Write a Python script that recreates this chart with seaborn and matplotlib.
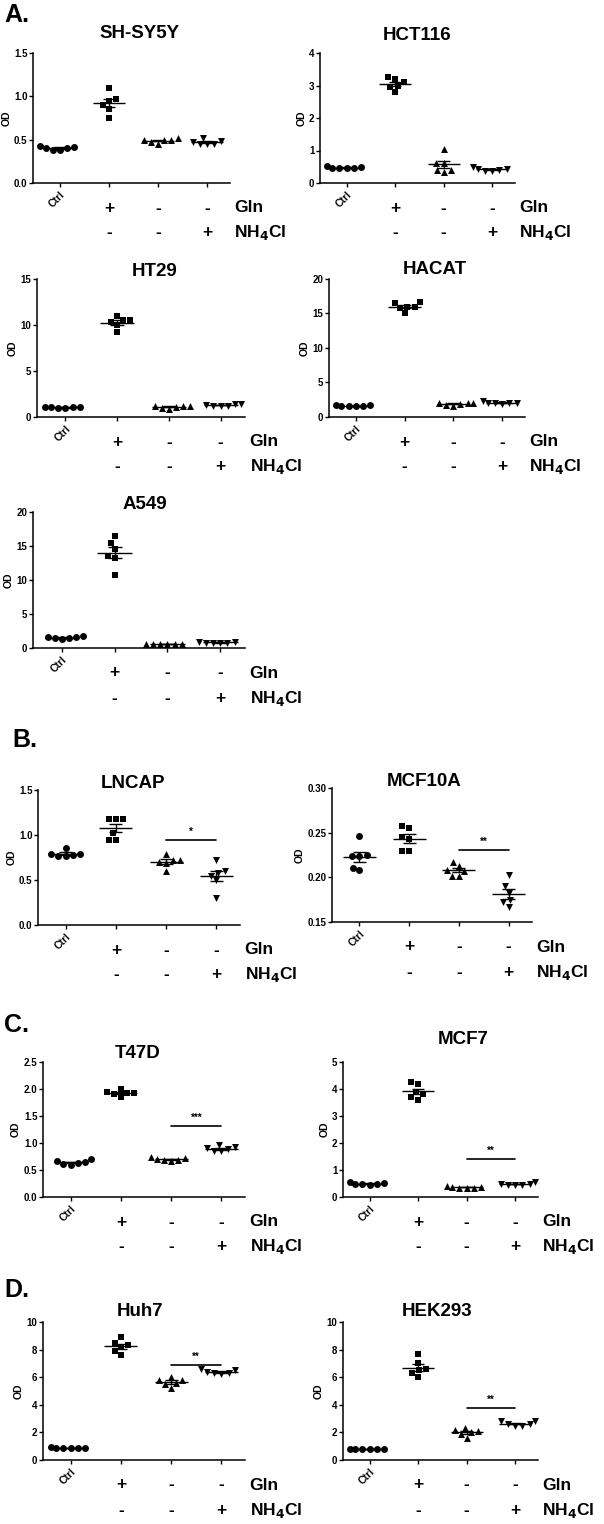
import numpy as np
import pandas as pd
import matplotlib
matplotlib.use("Agg")
import matplotlib.pyplot as plt
import seaborn as sns

# groups in order: Ctrl, Gln+, Gln-/NH4Cl-, NH4Cl+
groups = ["Ctrl", "Gln", "None", "NH4Cl"]
markers = ["o", "s", "^", "v"]
gln_signs = ["+", "-", "-"]
nh4cl_signs = ["-", "-", "+"]

# OD values (6 replicates per group)
sh_sy5y = [[0.42, 0.40, 0.38, 0.38, 0.40, 0.43],
           [1.10, 0.95, 0.97, 0.90, 0.85, 0.75],
           [0.50, 0.50, 0.47, 0.45, 0.50, 0.52],
           [0.52, 0.47, 0.45, 0.45, 0.45, 0.48]]
hct116 = [[0.48, 0.46, 0.45, 0.45, 0.47, 0.52],
          [3.20, 3.00, 3.10, 2.95, 2.80, 3.25],
          [1.05, 0.62, 0.62, 0.40, 0.35, 0.40],
          [0.42, 0.40, 0.38, 0.38, 0.42, 0.50]]
ht29 = [[1.10, 1.05, 1.00, 1.00, 1.05, 1.10],
        [11.0, 10.5, 10.0, 9.2, 10.3, 10.5],
        [1.20, 1.10, 0.90, 1.00, 1.20, 1.25],
        [1.40, 1.20, 1.20, 1.25, 1.30, 1.40]]
hacat = [[1.7, 1.6, 1.6, 1.6, 1.6, 1.7],
         [16.6, 16.0, 15.8, 16.5, 15.0, 16.0],
         [2.0, 1.8, 1.6, 1.9, 2.1, 2.0],
         [2.1, 2.0, 1.9, 2.0, 2.1, 2.3]]
a549 = [[1.6, 1.5, 1.3, 1.5, 1.6, 1.7],
        [16.4, 15.5, 14.6, 13.6, 13.2, 10.7],
        [0.60, 0.60, 0.55, 0.60, 0.60, 0.60],
        [0.80, 0.80, 0.75, 0.80, 0.85, 0.90]]
lncap = [[0.79, 0.86, 0.78, 0.77, 0.77, 0.79],
         [1.18, 1.18, 1.18, 1.02, 0.95, 0.95],
         [0.79, 0.72, 0.70, 0.69, 0.60, 0.72],
         [0.72, 0.60, 0.58, 0.55, 0.50, 0.30]]
mcf10a = [[0.246, 0.224, 0.224, 0.225, 0.211, 0.208],
          [0.255, 0.257, 0.245, 0.243, 0.229, 0.230],
          [0.217, 0.213, 0.207, 0.208, 0.202, 0.202],
          [0.203, 0.190, 0.183, 0.175, 0.172, 0.167]]
t47d = [[0.66, 0.63, 0.60, 0.61, 0.64, 0.70],
        [1.95, 1.92, 2.00, 1.90, 1.85, 1.93],
        [0.72, 0.69, 0.67, 0.68, 0.70, 0.74],
        [0.92, 0.88, 0.85, 0.86, 0.90, 0.97]]
mcf7 = [[0.52, 0.48, 0.45, 0.47, 0.50, 0.55],
        [4.20, 4.25, 3.90, 3.80, 3.60, 3.70],
        [0.38, 0.35, 0.32, 0.35, 0.38, 0.42],
        [0.50, 0.45, 0.45, 0.45, 0.50, 0.55]]
huh7 = [[0.9, 0.9, 0.88, 0.88, 0.9, 0.92],
        [8.9, 8.5, 8.2, 7.9, 7.6, 8.3],
        [6.0, 5.8, 5.6, 5.2, 5.5, 5.8],
        [6.5, 6.3, 6.2, 6.3, 6.4, 6.6]]
hek293 = [[0.8, 0.8, 0.78, 0.78, 0.8, 0.82],
          [7.7, 7.0, 6.6, 6.3, 6.0, 6.5],
          [2.3, 2.1, 1.9, 1.6, 2.0, 2.2],
          [2.8, 2.6, 2.5, 2.5, 2.6, 2.8]]

sns.set_style("ticks")
plt.rcParams["font.family"] = ["Liberation Sans", "DejaVu Sans"]
plt.rcParams["font.weight"] = "bold"
plt.rcParams["axes.labelweight"] = "bold"
for key in ["text.color", "axes.labelcolor", "xtick.color", "ytick.color", "axes.edgecolor"]:
    plt.rcParams[key] = "black"

W, H = 604, 1524
fig = plt.figure(figsize=(W / 100, H / 100), dpi=100)


def panel(box, title, title_xy, values, yticks, fmt, sig=None):
    left, right, top, bottom = box
    ax = fig.add_axes([left / W, 1 - bottom / H, (right - left) / W, (bottom - top) / H])
    df = pd.DataFrame({
        "group": np.repeat(groups, [len(v) for v in values]),
        "od": np.concatenate(values),
    })
    for g, m in zip(groups, markers):
        sns.swarmplot(data=df[df.group == g], x="group", y="od", order=groups,
                      marker=m, color="black", size=5, linewidth=0, ax=ax)
    for i, v in enumerate(values):
        v = np.asarray(v)
        mean = v.mean()
        sem = v.std(ddof=1) / np.sqrt(len(v))
        ax.hlines(mean, i - 0.33, i + 0.33, color="black", lw=1, zorder=4)
        ax.vlines(i, mean - sem, mean + sem, color="black", lw=1, zorder=4)
        ax.hlines([mean - sem, mean + sem], i - 0.13, i + 0.13, color="black", lw=1, zorder=4)
    ax.set_xlim(-0.55, 3.47)
    ax.set_ylim(yticks[0], yticks[-1])
    ax.set_yticks(yticks)
    ax.set_yticklabels([fmt.format(t) for t in yticks])
    ax.set_xticks(range(4))
    ax.set_xticklabels(["Ctrl", "", "", ""], rotation=45, ha="right",
                       rotation_mode="anchor", fontsize=7.5)
    ax.tick_params(axis="y", labelsize=7, length=3, width=1, pad=1)
    ax.tick_params(axis="x", length=3, width=1, pad=2)
    ax.set_xlabel("")
    ax.set_ylabel("OD", fontsize=7.5, labelpad=2)
    for s in ["top", "right"]:
        ax.spines[s].set_visible(False)
    for s in ["left", "bottom"]:
        ax.spines[s].set_linewidth(1.1)
    for i, (a, b) in enumerate(zip(gln_signs, nh4cl_signs)):
        ax.annotate(a, xy=(i + 1, 0), xycoords=("data", "axes fraction"),
                    xytext=(0, -25), textcoords="offset pixels",
                    ha="center", va="center", fontsize=12.5, weight="bold")
        ax.annotate(b, xy=(i + 1, 0), xycoords=("data", "axes fraction"),
                    xytext=(0, -50), textcoords="offset pixels",
                    ha="center", va="center", fontsize=12.5, weight="bold")
    ax.annotate("Gln", xy=(3.56, 0), xycoords=("data", "axes fraction"),
                xytext=(0, -25), textcoords="offset pixels",
                ha="left", va="center", fontsize=12.5, weight="bold")
    ax.annotate("NH$_\\mathbf{4}$Cl", xy=(3.56, 0), xycoords=("data", "axes fraction"),
                xytext=(0, -50), textcoords="offset pixels",
                ha="left", va="center", fontsize=12.5, weight="bold")
    if sig is not None:
        y, stars = sig
        ax.plot([2, 3], [y, y], color="black", lw=1.2)
        ax.annotate(stars, xy=(2.5, y), xytext=(0, 3), textcoords="offset pixels",
                    ha="center", va="bottom", fontsize=7)
    fig.text(title_xy[0] / W, 1 - title_xy[1] / H, title, ha="center", va="center",
             fontsize=13.5, weight="bold")
    return ax


panel((33, 230, 53, 183), "SH-SY5Y", (140, 33), sh_sy5y, [0, 0.5, 1.0, 1.5], "{:.1f}")
panel((320, 515, 53, 183), "HCT116", (417, 35), hct116, [0, 1, 2, 3, 4], "{:d}")
panel((37, 245, 279, 417), "HT29", (155, 272), ht29, [0, 5, 10, 15], "{:d}")
panel((329, 525, 279, 417), "HACAT", (435, 270), hacat, [0, 5, 10, 15, 20], "{:d}")
panel((33, 245, 512, 648), "A549", (145, 505), a549, [0, 5, 10, 15, 20], "{:d}")
panel((38, 240, 790, 925), "LNCAP", (133, 783), lncap, [0, 0.5, 1.0, 1.5], "{:.1f}",
      sig=(0.95, "*"))
panel((332, 532, 788, 922), "MCF10A", (424, 782), mcf10a, [0.15, 0.20, 0.25, 0.30], "{:.2f}",
      sig=(0.231, "**"))
panel((43, 245, 1062, 1197), "T47D", (138, 1053), t47d, [0, 0.5, 1.0, 1.5, 2.0, 2.5], "{:.1f}",
      sig=(1.32, "***"))
panel((343, 538, 1062, 1197), "MCF7", (463, 1040), mcf7, [0, 1, 2, 3, 4, 5], "{:d}",
      sig=(1.4, "**"))
panel((43, 245, 1322, 1460), "Huh7", (140, 1312), huh7, [0, 2, 4, 6, 8, 10], "{:d}",
      sig=(6.9, "**"))
panel((343, 538, 1322, 1460), "HEK293", (437, 1312), hek293, [0, 2, 4, 6, 8, 10], "{:d}",
      sig=(3.8, "**"))

for letter, (x, y) in {"A.": (4, 15), "B.": (12, 740), "C.": (4, 1025), "D.": (4, 1290)}.items():
    fig.text(x / W, 1 - y / H, letter, ha="left", va="center", fontsize=18, weight="bold")

fig.savefig("out.png", dpi=100)
